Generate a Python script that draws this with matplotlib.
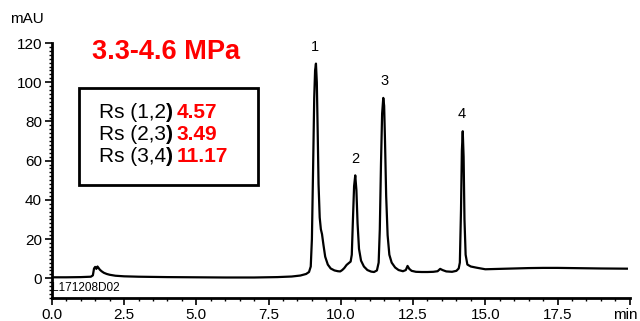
import matplotlib
matplotlib.use("Agg")
import matplotlib.pyplot as plt
from matplotlib.ticker import MultipleLocator, FixedLocator, FixedFormatter
from matplotlib.patches import Rectangle

# Chromatogram trace (time in min, signal in mAU)
time_min = [0.0, 0.5, 1.0, 1.35, 1.42, 1.46, 1.50, 1.54, 1.58, 1.62, 1.66, 1.72, 1.80, 1.90,
            2.0, 2.2, 2.5, 3.0, 4.0, 5.0, 6.0, 7.0, 7.8, 8.3, 8.6, 8.8, 8.9, 8.96, 9.0,
            9.04, 9.08, 9.11, 9.14, 9.17, 9.20, 9.23, 9.27, 9.31, 9.35, 9.40, 9.46, 9.55,
            9.65, 9.78, 9.90, 9.98, 10.05, 10.12, 10.20, 10.28, 10.34, 10.38, 10.42, 10.46,
            10.50, 10.54, 10.58, 10.63, 10.70, 10.80, 10.92, 11.05, 11.15, 11.25, 11.31,
            11.35, 11.39, 11.43, 11.47, 11.50, 11.53, 11.57, 11.62, 11.68, 11.76, 11.88, 12.0,
            12.15, 12.25, 12.31, 12.37, 12.45, 12.6, 12.8, 13.0, 13.2, 13.35, 13.44, 13.52,
            13.65, 13.85, 14.0, 14.08, 14.12, 14.16, 14.19, 14.22, 14.25, 14.28, 14.32,
            14.38, 14.5, 14.7, 15.0, 15.5, 16.0, 16.5, 17.0, 17.5, 18.0, 18.5, 19.0, 19.9]
signal_mau = [0.5, 0.5, 0.6, 0.8, 1.5, 5.0, 5.8, 4.8, 6.0, 5.2, 4.4, 3.6, 2.8, 2.2,
              1.8, 1.3, 1.0, 0.8, 0.6, 0.5, 0.4, 0.4, 0.6, 0.9, 1.4, 2.2, 3.2, 6.0, 20.0,
              55.0, 92.0, 106.0, 109.5, 100.0, 75.0, 48.0, 31.0, 25.0, 22.5, 17.0, 11.0, 7.0,
              5.0, 4.0, 3.6, 3.5, 4.2, 5.2, 6.8, 7.8, 8.5, 12.0, 30.0, 47.0,
              52.5, 45.0, 28.0, 15.0, 9.0, 6.0, 4.2, 3.4, 3.2, 4.0, 8.0,
              25.0, 58.0, 84.0, 92.0, 88.0, 70.0, 42.0, 22.0, 12.0, 8.0, 5.5, 4.2,
              3.6, 4.2, 6.3, 4.8, 3.8, 3.3, 3.2, 3.2, 3.3, 3.6, 4.8, 4.2,
              3.5, 3.3, 3.8, 5.0, 8.0, 35.0, 65.0, 75.0, 62.0, 30.0, 12.0,
              7.0, 6.0, 5.4, 4.6, 4.8, 5.0, 5.2, 5.3, 5.3, 5.2, 5.1, 5.0, 4.9]

peak_labels = ["1", "2", "3", "4"]
peak_label_x = [9.1, 10.5, 11.5, 14.2]
peak_label_y = [114.5, 57.5, 97.0, 80.0]

rs_pairs = ["(1,2", "(2,3", "(3,4"]
rs_values = ["4.57", "3.49", "11.17"]

title_text = "3.3-4.6 MPa"
sample_id = "L171208D02"

x_ticks = [0.0, 2.5, 5.0, 7.5, 10.0, 12.5, 15.0, 17.5, 20.0]
x_tick_labels = ["0.0", "2.5", "5.0", "7.5", "10.0", "12.5", "15.0", "17.5", ""]
x_unit = "min"
y_ticks = [0, 20, 40, 60, 80, 100, 120]

plt.rcParams['font.family'] = ['Liberation Sans', 'DejaVu Sans']

fig = plt.figure(figsize=(6.4, 3.21), dpi=100)
ax = fig.add_axes([0.081, 0.072, 0.903, 0.794])

ax.plot(time_min, signal_mau, color='black', lw=1.6, solid_joinstyle='round')

ax.set_xlim(0, 20)
ax.set_ylim(-10, 120)

for s in ['top', 'right']:
    ax.spines[s].set_visible(False)
for s in ['left', 'bottom']:
    ax.spines[s].set_linewidth(2.0)

ax.xaxis.set_major_locator(FixedLocator(x_ticks))
ax.xaxis.set_major_formatter(FixedFormatter(x_tick_labels))
ax.xaxis.set_minor_locator(MultipleLocator(0.5))
ax.yaxis.set_major_locator(FixedLocator(y_ticks))
ax.yaxis.set_minor_locator(MultipleLocator(2))
ax.tick_params(which='major', direction='out', length=5, width=1.2, labelsize=11, pad=2)
ax.tick_params(which='minor', direction='out', length=2.5, width=1.0)

# unit label in place of the last x tick label
lbl = ax.get_xticklabels()[1]
fig.canvas.draw()
bb_lbl = ax.xaxis.get_ticklabels()[1].get_window_extent()
fig.text(638 / 640, (bb_lbl.y0 + bb_lbl.y1) / 2 / 321, x_unit, fontsize=11,
         ha='right', va='center')

fig.text(0.015, 0.94, "mAU", fontsize=11, ha='left', va='center')

for lab, lx, ly in zip(peak_labels, peak_label_x, peak_label_y):
    ax.text(lx, ly, lab, fontsize=10.5, ha='center', va='bottom')

ax.text(0.005, -5.2, sample_id, fontsize=8.5, ha='left', va='center')

fig.text(166 / 640, 1 - 52 / 321, title_text, fontsize=19.5, fontweight='bold', color='red',
         ha='center', va='center')

# Rs box
box = Rectangle((79 / 640, 1 - 185 / 321), (258 - 79) / 640, (185 - 88) / 321,
                transform=fig.transFigure, fill=False, edgecolor='black', lw=2.0)
fig.add_artist(box)

row_y = [112, 134, 156]
for pair, val, ry in zip(rs_pairs, rs_values, row_y):
    y = 1 - ry / 321
    t1 = fig.text(99 / 640, y, "Rs " + pair, fontsize=15, ha='left', va='center')
    fig.canvas.draw()
    bb = t1.get_window_extent()
    t2 = fig.text(bb.x1 / 640, y, ")", fontsize=15, fontweight='bold', ha='left', va='center')
    fig.canvas.draw()
    bb2 = t2.get_window_extent()
    fig.text(bb2.x1 / 640 + 0.006, y, val, fontsize=15, fontweight='bold', color='red',
             ha='left', va='center')

fig.savefig("out.png", dpi=100)
